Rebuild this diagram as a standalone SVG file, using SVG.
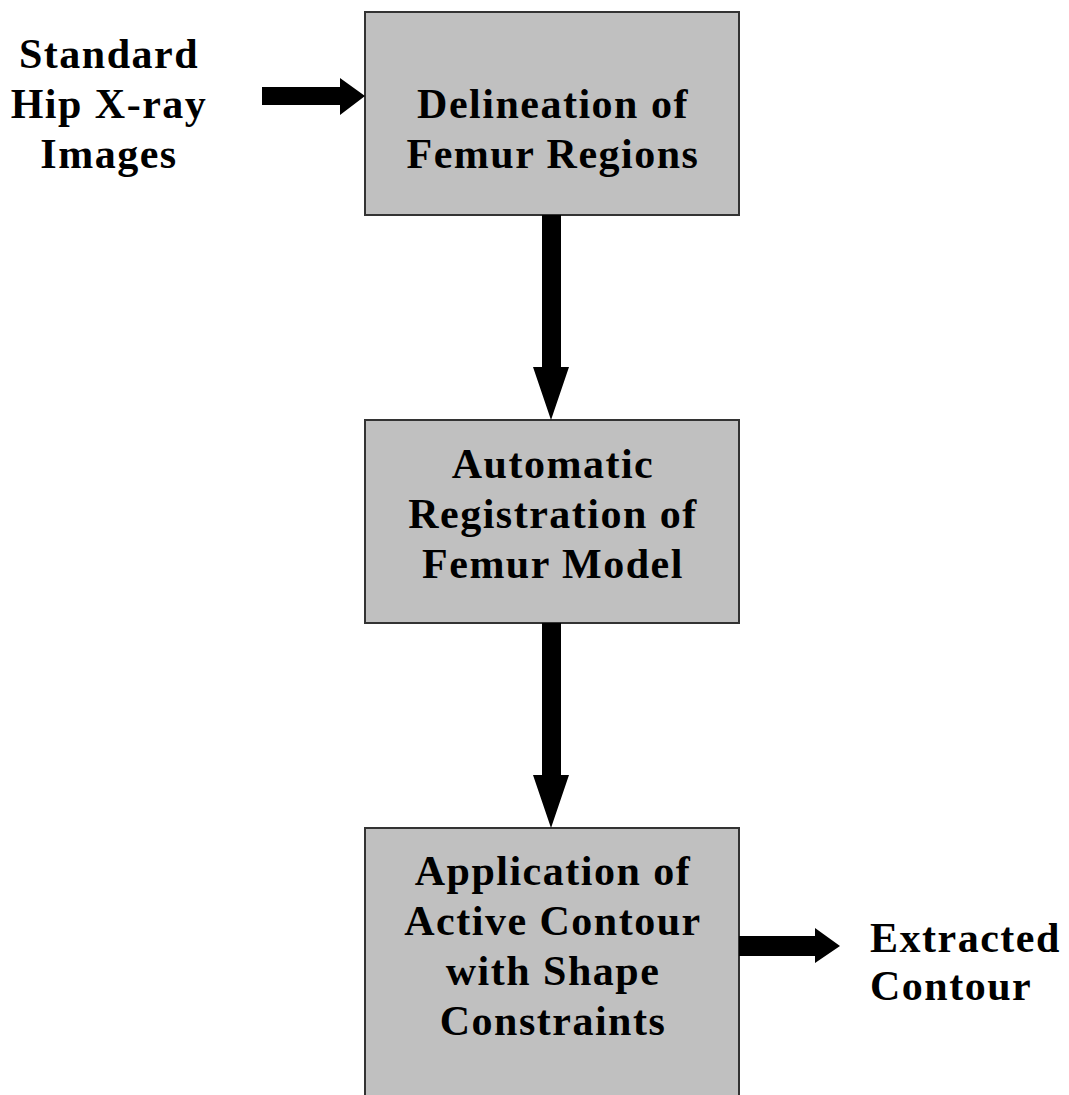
<svg xmlns="http://www.w3.org/2000/svg" width="1069" height="1095" viewBox="0 0 1069 1095">
<style>
.box{fill:#c0c0c0;stroke:#333;stroke-width:2}
.t{font-family:"Liberation Serif","Times New Roman",serif;font-weight:bold;font-size:42px;letter-spacing:1.5px;fill:#000;text-anchor:middle}
.a{fill:#000}
</style>
<rect width="1069" height="1095" fill="#fff"/>
<g id="input">
<text class="t" x="109" y="68">Standard</text>
<text class="t" x="109" y="118">Hip X-ray</text>
<text class="t" x="109" y="168">Images</text>
</g>
<g id="node1">
<rect class="box" x="365" y="12" width="374" height="203"/>
<text class="t" x="553" y="118">Delineation of</text>
<text class="t" x="553" y="168">Femur Regions</text>
</g>
<g id="node2">
<rect class="box" x="365" y="420" width="374" height="203"/>
<text class="t" x="553" y="478">Automatic</text>
<text class="t" x="553" y="528">Registration of</text>
<text class="t" x="553" y="578">Femur Model</text>
</g>
<g id="node3">
<rect class="box" x="365" y="828" width="374" height="280"/>
<text class="t" x="553" y="885">Application of</text>
<text class="t" x="553" y="935">Active Contour</text>
<text class="t" x="553" y="985">with Shape</text>
<text class="t" x="553" y="1035">Constraints</text>
</g>
<g id="output">
<text class="t" x="870" y="952" style="text-anchor:start">Extracted</text>
<text class="t" x="870" y="1000" style="text-anchor:start">Contour</text>
</g>
<g id="connectors">
<polygon class="a" points="262,87 340,87 340,78 365,96 340,115 340,105 262,105"/>
<polygon class="a" points="542,215 561,215 561,367 569,367 551,420 533,367 542,367"/>
<polygon class="a" points="542,623 561,623 561,775 569,775 551,828 533,775 542,775"/>
<polygon class="a" points="739,936 815,936 815,928 840,946 815,963 815,956 739,956"/>
</g>
</svg>
